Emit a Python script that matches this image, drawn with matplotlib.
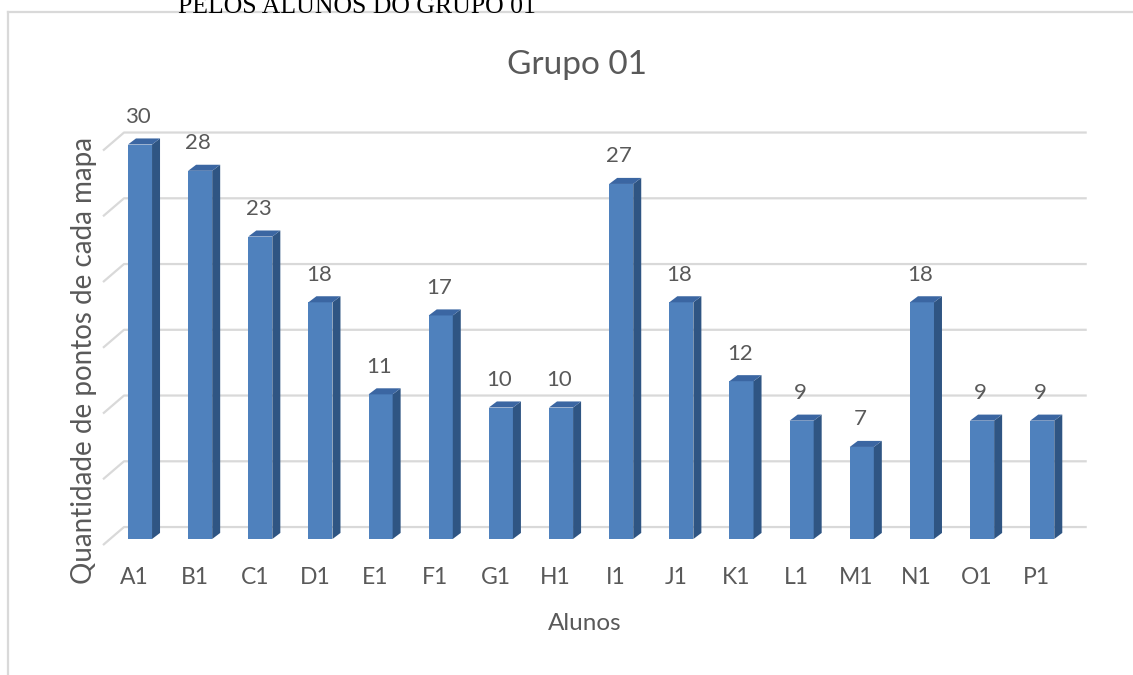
import numpy as np
import matplotlib
matplotlib.use("Agg")
import matplotlib.pyplot as plt
from matplotlib.patches import Polygon
from matplotlib.lines import Line2D

ALUNOS = ["A1", "B1", "C1", "D1", "E1", "F1", "G1", "H1",
          "I1", "J1", "K1", "L1", "M1", "N1", "O1", "P1"]
PONTOS = [30, 28, 23, 18, 11, 17, 10, 10, 27, 18, 12, 9, 7, 18, 9, 9]
GRID_TICKS = [0, 5, 10, 15, 20, 25, 30]

C_FRONT, C_SIDE, C_TOP = "#4f81bd", "#2f5583", "#3b66a2"
C_GRID, C_TEXT = "#d9d9d9", "#595959"
FONT = "Lato"

W, H = 1133, 675
fig = plt.figure(figsize=(W / 100, H / 100), dpi=100)
ax = fig.add_axes([0, 0, 1, 1])
# category step ~60 px, 13.15 px per point, baseline at y=539 px from the top
ax.set_xlim(-140 / 60.15, (W - 140) / 60.15)
ax.set_ylim(-136 / 13.15, (H - 136) / 13.15)
ax.axis("off")

bw = 0.40      # front face width
dx, dy = 0.133, 0.46   # bar depth offset
# back wall grid: floor-front corner to back wall, then across
gx0, gx1, gx2 = -0.615, -0.266, 15.74
g_lo, g_hi = -0.46, 0.91
for g in GRID_TICKS:
    ax.plot([gx0, gx1, gx2], [g + g_lo, g + g_hi, g + g_hi],
            color=C_GRID, lw=1.6, solid_capstyle="butt", zorder=1)

x = np.arange(len(ALUNOS))
ax.bar(x, PONTOS, bw, color=C_FRONT, zorder=3, linewidth=0)
for xi, v in zip(x, PONTOS):
    l, r = xi - bw / 2, xi + bw / 2
    ax.add_patch(Polygon([(r, 0), (r + dx, dy), (r + dx, v + dy), (r, v)],
                         closed=True, facecolor=C_SIDE, lw=0, zorder=3))
    ax.add_patch(Polygon([(l, v), (r, v), (r + dx, v + dy), (l + dx, v + dy)],
                         closed=True, facecolor=C_TOP, lw=0, zorder=3))
    ax.text(xi - 0.03, v + 2.1, str(v), ha="center", va="center",
            fontsize=16, color=C_TEXT, family=FONT)

for xi, name in zip(x, ALUNOS):
    ax.text(xi - 0.09, -2.95, name, ha="center", va="center",
            fontsize=16.5, color=C_TEXT, family=FONT)

fig.text(577 / W, 1 - 65 / H, "Grupo 01", ha="center", va="center",
         fontsize=24, color=C_TEXT, family=FONT)
fig.text(585 / W, 1 - 624 / H, "Alunos", ha="center", va="center",
         fontsize=17.5, color=C_TEXT, family=FONT)
fig.text(84 / W, 1 - 360 / H, "Quantidade de pontos de cada mapa", rotation=90,
         ha="center", va="center", fontsize=20, color=C_TEXT, family=FONT)

# caption above the chart frame (cut by the page edge)
fig.text(178 / W, 1 - 13 / H, "PELOS ALUNOS DO GRUPO 01", ha="left", va="baseline",
         fontsize=18.5, color="black", family="Liberation Serif")

# chart frame
fig.add_artist(Line2D([8 / W, 1], [1 - 12 / H, 1 - 12 / H], transform=fig.transFigure,
                      color=C_GRID, lw=1.6))
fig.add_artist(Line2D([8 / W, 8 / W], [0, 1 - 12 / H], transform=fig.transFigure,
                      color=C_GRID, lw=1.6))

fig.savefig("out.png", dpi=100)
